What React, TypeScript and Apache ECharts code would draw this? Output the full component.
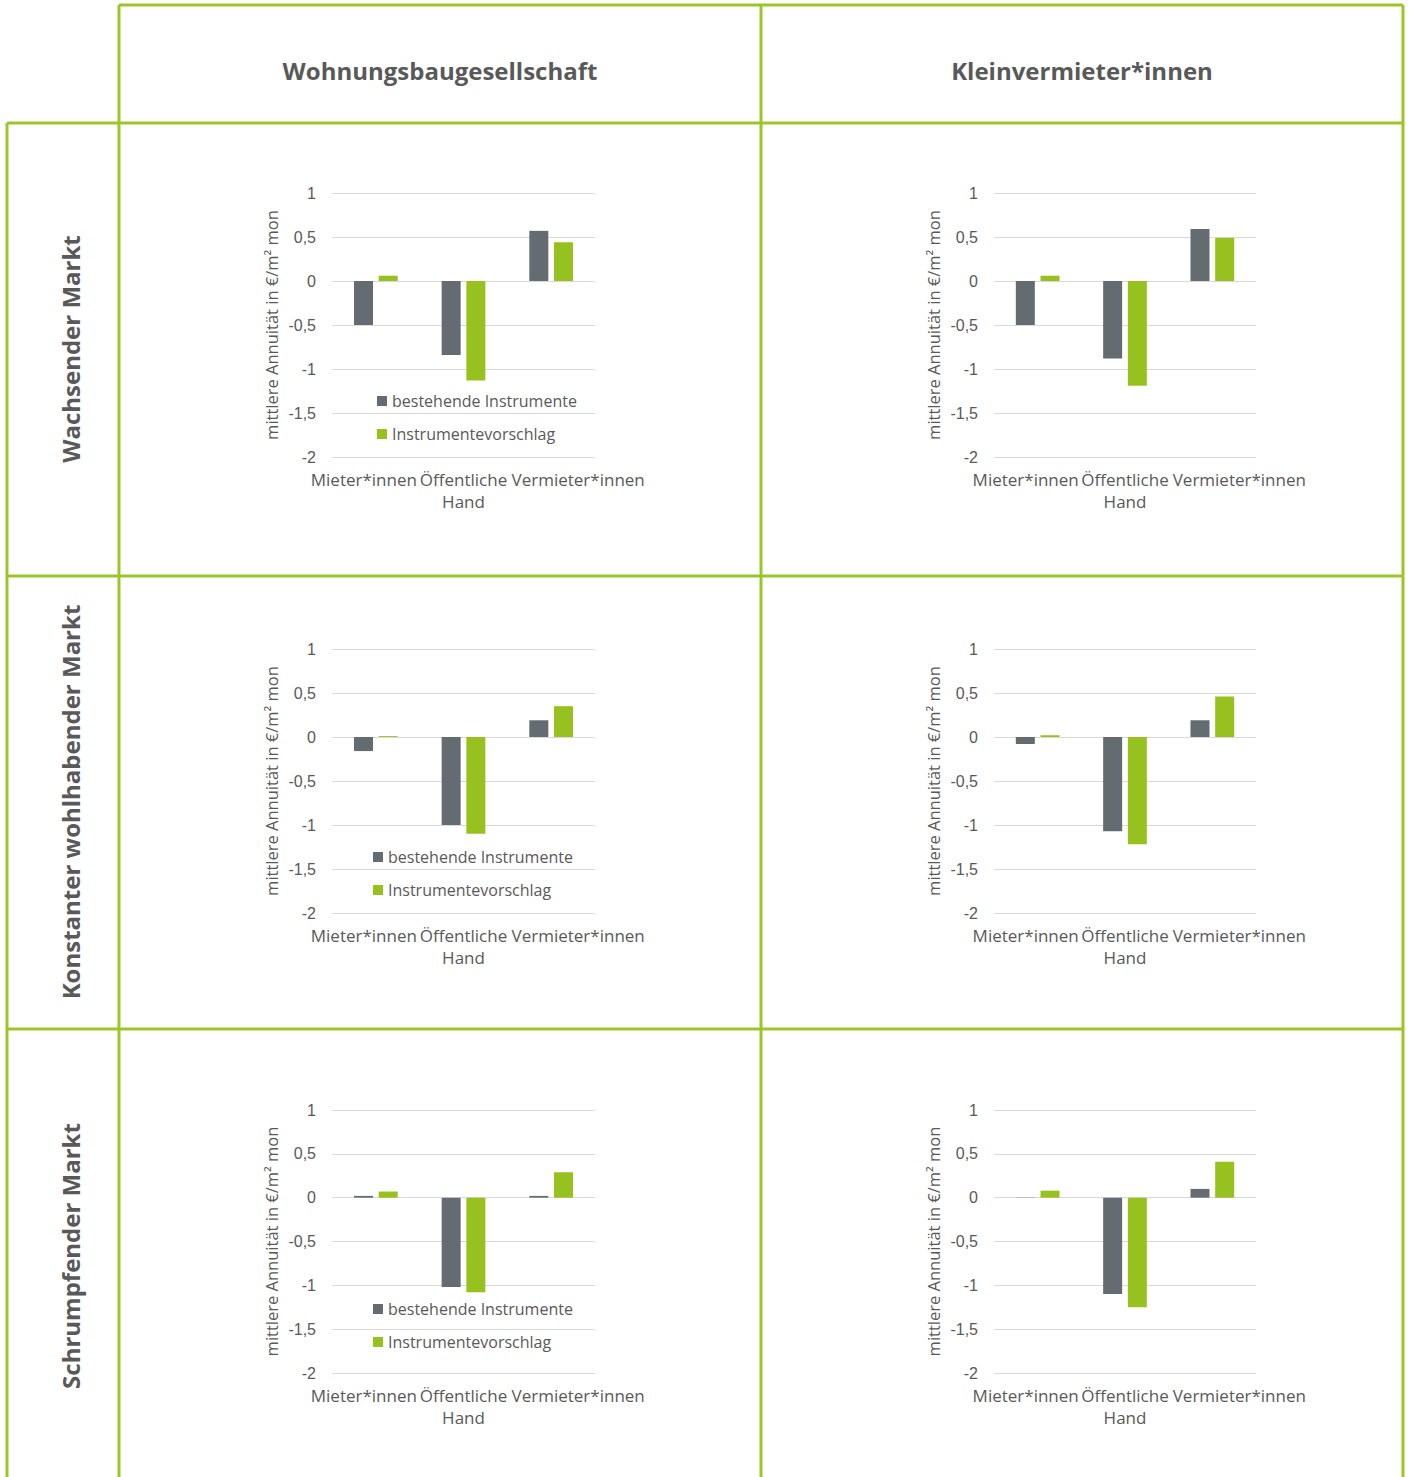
import React, { useEffect, useRef } from "react";
import * as echarts from "echarts";

// Categories on the horizontal axis of every panel
const categories = ["Mieter*innen", "Öffentliche\nHand", "Vermieter*innen"];

// Column and row headings of the panel table
const columnTitles = ["Wohnungsbaugesellschaft", "Kleinvermieter*innen"];
const rowTitles = ["Wachsender Markt", "Konstanter wohlhabender Markt", "Schrumpfender Markt"];

const seriesNames = ["bestehende Instrumente", "Instrumentevorschlag"];
const yAxisTitle = "mittlere Annuität in €/m² mon";

// Mean annuity values (€/m² per month) per market and landlord type
const wachsendWbgBestehend = [-0.5, -0.84, 0.57];
const wachsendWbgVorschlag = [0.06, -1.13, 0.44];
const wachsendKvBestehend = [-0.5, -0.88, 0.59];
const wachsendKvVorschlag = [0.06, -1.19, 0.49];

const konstantWbgBestehend = [-0.16, -1.0, 0.19];
const konstantWbgVorschlag = [0.01, -1.1, 0.35];
const konstantKvBestehend = [-0.08, -1.07, 0.19];
const konstantKvVorschlag = [0.02, -1.22, 0.46];

const schrumpfWbgBestehend = [0.02, -1.02, 0.02];
const schrumpfWbgVorschlag = [0.07, -1.08, 0.29];
const schrumpfKvBestehend = [-0.005, -1.1, 0.1];
const schrumpfKvVorschlag = [0.08, -1.25, 0.41];

// Value axis ticks
const yMin = -2;
const yMax = 1;
const yStep = 0.5;

const panels = [
  { row: 0, col: 0, values: [wachsendWbgBestehend, wachsendWbgVorschlag], legend: true },
  { row: 0, col: 1, values: [wachsendKvBestehend, wachsendKvVorschlag], legend: false },
  { row: 1, col: 0, values: [konstantWbgBestehend, konstantWbgVorschlag], legend: true },
  { row: 1, col: 1, values: [konstantKvBestehend, konstantKvVorschlag], legend: false },
  { row: 2, col: 0, values: [schrumpfWbgBestehend, schrumpfWbgVorschlag], legend: true },
  { row: 2, col: 1, values: [schrumpfKvBestehend, schrumpfKvVorschlag], legend: false },
];

const GRAY = "#646B71";
const GREEN = "#96C11F";
const TEXT = "#595959";
const FRAME = "#9BC62A";

export default function App() {
  const ref = useRef<HTMLDivElement>(null);

  useEffect(() => {
    if (!ref.current) return;
    const chart = echarts.init(ref.current, undefined, { renderer: "svg" });

    const gridLeft = [332, 994];
    const gridWidth = [263, 262];
    const gridTop = [193, 649, 1110];
    const gridHeight = [264, 264, 263];
    const legendPos = [
      { left: 377, top: 393 },
      { left: 373, top: 849 },
      { left: 373, top: 1301 },
    ];

    const grids: any[] = [];
    const xAxes: any[] = [];
    const yAxes: any[] = [];
    const series: any[] = [];
    const legends: any[] = [];

    panels.forEach((p, i) => {
      grids.push({
        left: gridLeft[p.col],
        top: gridTop[p.row],
        width: gridWidth[p.col],
        height: gridHeight[p.row],
        containLabel: false,
      });
      xAxes.push({
        type: "category",
        gridIndex: i,
        data: categories.map((c, k) => ({
          value: c,
          textStyle: {
            padding: k === 0 ? [0, 24, 0, 0] : k === 2 ? [0, 0, 0, 54] : 0,
          },
        })),
        axisLine: { show: false },
        axisTick: { show: false },
        axisLabel: {
          interval: 0,
          margin: 11,
          color: TEXT,
          fontFamily: "Open Sans",
          fontSize: 17,
          lineHeight: 22,
        },
      });
      yAxes.push({
        type: "value",
        gridIndex: i,
        min: yMin,
        max: yMax,
        interval: yStep,
        name: yAxisTitle,
        nameLocation: "middle",
        nameRotate: 90,
        nameGap: 52,
        nameTextStyle: { color: TEXT, fontFamily: "Open Sans", fontSize: 16.5 },
        axisLine: { show: false },
        axisTick: { show: false },
        splitLine: { lineStyle: { color: "#D9D9D9", width: 1 } },
        axisLabel: {
          margin: 16,
          color: TEXT,
          fontFamily: "Liberation Sans",
          fontSize: 16,
          formatter: (v: number) => String(v).replace(".", ","),
        },
      });
      p.values.forEach((vals, s) => {
        series.push({
          type: "bar",
          name: seriesNames[s],
          xAxisIndex: i,
          yAxisIndex: i,
          data: vals,
          barWidth: 19,
          barGap: "30%",
          itemStyle: { color: s === 0 ? GRAY : GREEN },
        });
      });
      if (p.legend) {
        legends.push({
          data: seriesNames,
          orient: "vertical",
          left: legendPos[p.row].left,
          top: legendPos[p.row].top,
          icon: "rect",
          itemWidth: 10,
          itemHeight: 10,
          itemGap: 17,
          padding: 0,
          selectedMode: false,
          textStyle: { color: TEXT, fontFamily: "Open Sans", fontSize: 16, lineHeight: 16 },
        });
      }
    });

    // Table frame
    const frameLines: [number, number, number, number][] = [
      [119, 5, 1403, 5],
      [7, 123, 1403, 123],
      [7, 576, 1403, 576],
      [7, 1029, 1403, 1029],
      [7, 123, 7, 1477],
      [119, 5, 119, 1477],
      [761, 5, 761, 1477],
      [1403, 5, 1403, 1477],
    ];
    const graphics: any[] = frameLines.map(([x1, y1, x2, y2]) => ({
      type: "line",
      shape: { x1, y1, x2, y2 },
      style: { stroke: FRAME, lineWidth: 3 },
      silent: true,
    }));

    const colCenters = [440, 1082];
    columnTitles.forEach((t, i) => {
      graphics.push({
        type: "text",
        x: colCenters[i],
        y: 70,
        style: {
          text: t,
          fill: TEXT,
          font: "bold 24px 'Open Sans'",
          align: "center",
          verticalAlign: "middle",
        },
      });
    });

    const rowCenters = [349, 802, 1256];
    rowTitles.forEach((t, i) => {
      graphics.push({
        type: "text",
        x: 70,
        y: rowCenters[i],
        rotation: Math.PI / 2,
        style: {
          text: t,
          fill: TEXT,
          font: "bold 24px 'Open Sans'",
          align: "center",
          verticalAlign: "middle",
        },
      });
    });

    chart.setOption({
      animation: false,
      backgroundColor: "#ffffff",
      grid: grids,
      xAxis: xAxes,
      yAxis: yAxes,
      legend: legends,
      series,
      graphic: graphics,
    });

    return () => chart.dispose();
  }, []);

  return (
    <div
      ref={ref}
      style={{ position: "absolute", left: 0, top: 0, width: 1410, height: 1477 }}
    />
  );
}
